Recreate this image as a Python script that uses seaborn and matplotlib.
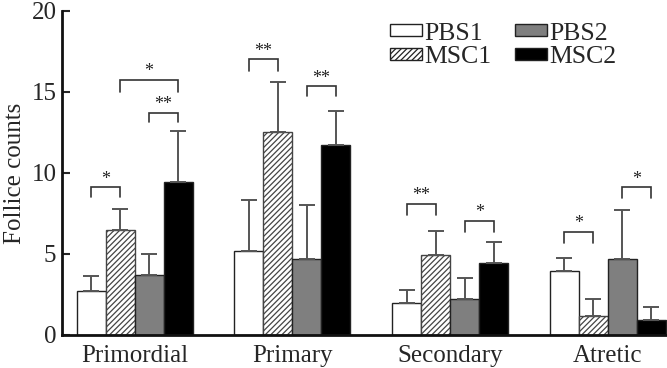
import matplotlib
matplotlib.use("Agg")
import matplotlib.pyplot as plt
import seaborn as sns
import pandas as pd

categories = ["Primordial", "Primary", "Secondary", "Atretic"]
groups = ["PBS1", "MSC1", "PBS2", "MSC2"]
means = {
    "PBS1": [2.7, 5.2, 1.95, 3.95],
    "MSC1": [6.45, 12.5, 4.95, 1.2],
    "PBS2": [3.7, 4.7, 2.2, 4.7],
    "MSC2": [9.45, 11.7, 4.45, 0.95],
}
errors = {
    "PBS1": [0.95, 3.1, 0.8, 0.8],
    "MSC1": [1.3, 3.1, 1.45, 1.0],
    "PBS2": [1.3, 3.3, 1.3, 3.0],
    "MSC2": [3.15, 2.1, 1.3, 0.8],
}
# significance brackets: (category, group a, group b, bracket height, leg bottom, label)
brackets = [
    ("Primordial", "PBS1", "MSC1", 9.1, 8.5, "*"),
    ("Primordial", "PBS2", "MSC2", 13.7, 13.15, "**"),
    ("Primordial", "MSC1", "MSC2", 15.75, 15.0, "*"),
    ("Primary", "PBS1", "MSC1", 17.0, 16.3, "**"),
    ("Primary", "PBS2", "MSC2", 15.35, 14.75, "**"),
    ("Secondary", "PBS1", "MSC1", 8.1, 7.4, "**"),
    ("Secondary", "PBS2", "MSC2", 7.05, 6.35, "*"),
    ("Atretic", "PBS1", "MSC1", 6.35, 5.7, "*"),
    ("Atretic", "PBS2", "MSC2", 9.1, 8.45, "*"),
]
yticks = [0, 5, 10, 15, 20]

sns.set_style("white")
plt.rcParams["font.family"] = ["Liberation Serif", "DejaVu Serif"]
plt.rcParams["hatch.color"] = "#555555"
plt.rcParams["hatch.linewidth"] = 0.9

rows = []
for g in groups:
    for c, v in zip(categories, means[g]):
        rows.append({"category": c, "group": g, "value": v})
df = pd.DataFrame(rows)

fill = {"PBS1": "white", "MSC1": "white", "PBS2": "#7f7f7f", "MSC2": "black"}
hatch = {"PBS1": "", "MSC1": "//////", "PBS2": "", "MSC2": ""}

fig = plt.figure(figsize=(6.67, 3.68), dpi=100)
ax = fig.add_axes([0.093, 0.0897, 0.907, 0.881])

sns.barplot(data=df, x="category", y="value", hue="group", order=categories,
            hue_order=groups, palette=fill, errorbar=None, width=0.735,
            edgecolor="#222222", linewidth=1.0, saturation=1, ax=ax)

centers = {}
for g, cont in zip(groups, ax.containers):
    xs = []
    for i, p in enumerate(cont.patches):
        p.set_hatch(hatch[g])
        p.set_edgecolor("#222222" if g != "MSC1" else "#444444")
        xc = p.get_x() + p.get_width() / 2
        xs.append(xc)
        centers[(categories[i], g)] = xc
    ax.errorbar(xs, means[g], yerr=[[0] * len(xs), errors[g]], fmt="none",
                ecolor="#555555", elinewidth=1.4, capsize=5.5, capthick=1.4,
                zorder=1)

for cat, a, b, h, lo, lab in brackets:
    xa, xb = centers[(cat, a)], centers[(cat, b)]
    ax.plot([xa, xa, xb, xb], [lo, h, h, lo], color="#333333", lw=1.2,
            solid_joinstyle="miter")
    ax.text((xa + xb) / 2, h + 0.5, lab, ha="center", va="center",
            fontsize=13, color="#222222")

ax.set_xlim(-0.46, 3.374)
ax.set_ylim(0, 20)
ax.set_yticks(yticks)
ax.set_xlabel("")
ax.set_ylabel("Follice counts", fontsize=18, labelpad=4)
ax.tick_params(axis="y", direction="in", length=6, width=1.5, labelsize=18,
               left=True, pad=4)
ax.tick_params(axis="x", length=0, labelsize=18, pad=7)
for s in ["top", "right"]:
    ax.spines[s].set_visible(False)
for s in ["left", "bottom"]:
    ax.spines[s].set_linewidth(2)
    ax.spines[s].set_color("#111111")

handles, labels = ax.get_legend_handles_labels()
for h, g in zip(handles, groups):
    h.set_hatch(hatch[g])
leg = ax.legend(handles, labels, ncol=2, loc="upper right",
                bbox_to_anchor=(0.955, 1.035), frameon=False, fontsize=18.5,
                handlelength=1.25, handleheight=0.35, handletextpad=0.1,
                columnspacing=0.9, labelspacing=0.05)

fig.savefig("out.png", dpi=100)
